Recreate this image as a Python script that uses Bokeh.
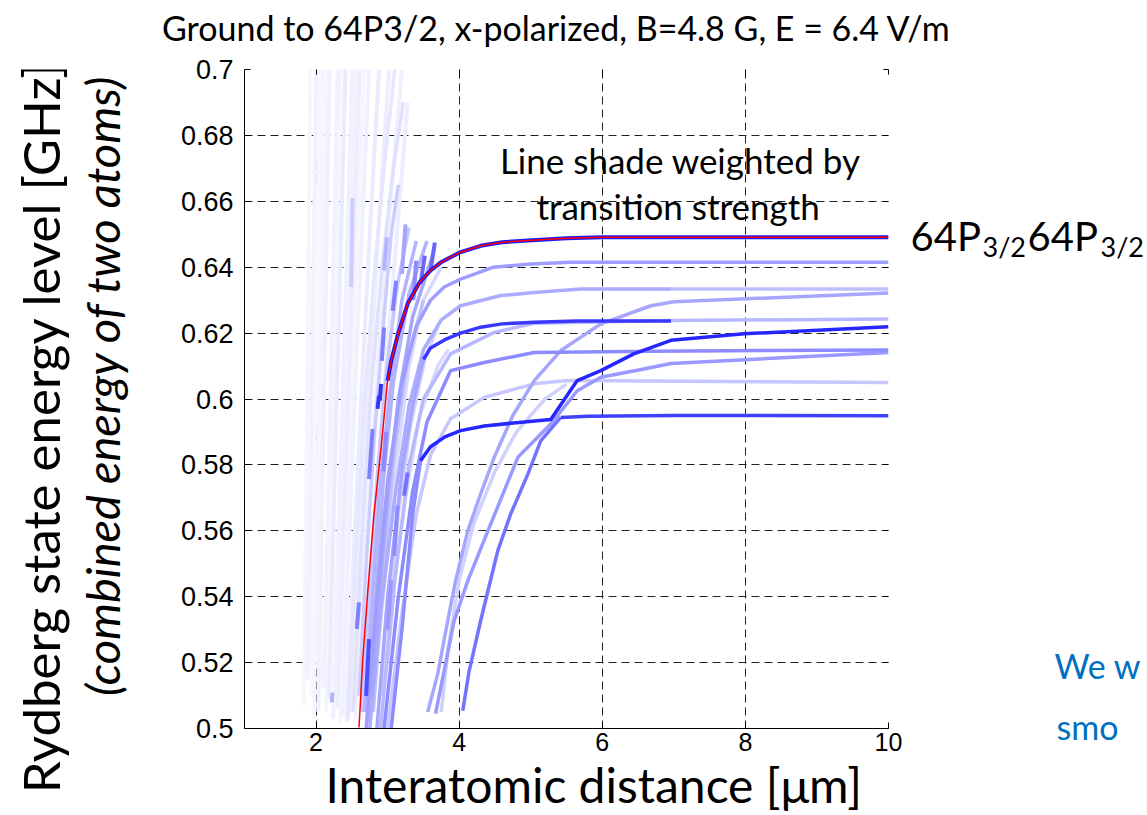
import math
from bokeh.plotting import figure
from bokeh.models import Label, LinearAxis, FixedTicker, Range1d, NumeralTickFormatter, Title
from bokeh.layouts import row, column
from bokeh.embed import file_html
from bokeh.resources import INLINE

# ---------------- data ----------------
x_ticks = [2, 4, 6, 8, 10]
y_ticks = [0.5, 0.52, 0.54, 0.56, 0.58, 0.6, 0.62, 0.64, 0.66, 0.68, 0.7]

faint_x = [
    [1.83, 1.85, 1.88, 1.90, 1.92],
    [1.88, 1.91, 1.94, 1.97, 2.00],
    [1.93, 1.95, 1.99, 2.02, 2.05],
    [1.97, 2.00, 2.04, 2.07, 2.10],
    [2.03, 2.07, 2.11, 2.15, 2.19],
    [2.10, 2.15, 2.20, 2.25, 2.30],
    [2.14, 2.18, 2.24, 2.29, 2.34],
    [2.18, 2.23, 2.29, 2.35, 2.41],
    [2.24, 2.30, 2.37, 2.44, 2.51],
    [2.30, 2.37, 2.45, 2.53, 2.61],
    [2.34, 2.41, 2.49, 2.58, 2.67],
    [2.37, 2.45, 2.54, 2.64, 2.74],
    [2.43, 2.52, 2.63, 2.75, 2.88],
    [2.49, 2.60, 2.73, 2.87, 3.02],
    [2.55, 2.67, 2.83, 3.00, 3.20],
    [2.62, 2.76, 2.94, 3.13, 3.28],
    [2.00, 2.04, 2.08, 2.12, 2.16],
    [2.27, 2.33, 2.41, 2.48, 2.56],
]
faint_y = [
    [0.507, 0.55, 0.60, 0.65, 0.70],
    [0.515, 0.55, 0.60, 0.65, 0.70],
    [0.510, 0.55, 0.60, 0.65, 0.70],
    [0.503, 0.55, 0.60, 0.65, 0.70],
    [0.505, 0.55, 0.60, 0.65, 0.70],
    [0.512, 0.55, 0.60, 0.65, 0.70],
    [0.505, 0.55, 0.60, 0.65, 0.70],
    [0.509, 0.55, 0.60, 0.65, 0.70],
    [0.503, 0.55, 0.60, 0.65, 0.70],
    [0.506, 0.55, 0.60, 0.65, 0.70],
    [0.502, 0.55, 0.60, 0.65, 0.70],
    [0.504, 0.55, 0.60, 0.65, 0.70],
    [0.502, 0.55, 0.60, 0.65, 0.70],
    [0.505, 0.55, 0.60, 0.65, 0.70],
    [0.503, 0.55, 0.60, 0.65, 0.70],
    [0.510, 0.55, 0.60, 0.65, 0.69],
    [0.520, 0.55, 0.60, 0.65, 0.70],
    [0.515, 0.55, 0.60, 0.65, 0.70],
]
faint_w = [0.04, 0.05, 0.03, 0.04, 0.06, 0.05, 0.04, 0.08, 0.06, 0.07,
           0.04, 0.06, 0.08, 0.07, 0.06, 0.07, 0.04, 0.05]

bundle_x = [
    [2.45, 2.55, 2.68, 2.82, 2.95, 3.10],
    [2.52, 2.62, 2.76, 2.92, 3.08, 3.22],
    [2.60, 2.70, 2.82, 2.95, 3.05, 3.15],
    [2.68, 2.76, 2.88, 3.02, 3.20, 3.40],
    [2.72, 2.82, 2.94, 3.08, 3.30, 3.55],
    [2.78, 2.90, 3.00, 3.15, 3.35, 3.65],
    [2.85, 2.98, 3.12, 3.30, 3.50, 3.75],
    [3.00, 3.10, 3.25, 3.45, 3.70, 3.85],
    [2.64, 2.73, 2.85, 2.99, 3.14, 3.30],
    [2.80, 2.87, 2.97, 3.10, 3.28, 3.50],
    [2.92, 3.02, 3.15, 3.32, 3.52, 3.70],
]
bundle_y = [
    [0.503, 0.55, 0.60, 0.64, 0.67, 0.70],
    [0.505, 0.55, 0.60, 0.64, 0.67, 0.69],
    [0.510, 0.55, 0.59, 0.625, 0.65, 0.665],
    [0.505, 0.53, 0.57, 0.60, 0.63, 0.648],
    [0.502, 0.535, 0.575, 0.605, 0.632, 0.648],
    [0.510, 0.545, 0.57, 0.60, 0.625, 0.645],
    [0.520, 0.55, 0.58, 0.61, 0.63, 0.640],
    [0.520, 0.545, 0.57, 0.595, 0.61, 0.615],
    [0.505, 0.535, 0.575, 0.61, 0.635, 0.652],
    [0.505, 0.525, 0.555, 0.585, 0.612, 0.630],
    [0.510, 0.535, 0.565, 0.592, 0.612, 0.622],
]
bundle_w = [0.10, 0.12, 0.20, 0.30, 0.30, 0.35, 0.15, 0.15, 0.22, 0.25, 0.18]

seg_x0 = [3.66, 3.52, 3.12, 2.99, 2.95, 2.91, 2.51, 2.74, 2.60, 2.79, 2.88, 3.28, 3.14, 2.23, 3.40, 3.25, 3.05, 2.98]
seg_y0 = [0.6475, 0.6435, 0.6359, 0.649, 0.6217, 0.6046, 0.661, 0.5271, 0.5383, 0.5909, 0.601, 0.5777, 0.5676, 0.5109, 0.6420, 0.6530, 0.5450, 0.5900]
seg_x1 = [3.60, 3.46, 3.07, 2.95, 2.92, 2.89, 2.49, 2.70, 2.57, 2.74, 2.86, 3.23, 3.09, 2.22, 3.36, 3.20, 3.00, 2.94]
seg_y1 = [0.639, 0.6349, 0.6268, 0.639, 0.6116, 0.5995, 0.634, 0.5099, 0.5302, 0.5757, 0.597, 0.5706, 0.5524, 0.5079, 0.6300, 0.6380, 0.5300, 0.5780]
seg_w = [0.6, 0.6, 0.5, 0.3, 0.5, 0.8, 0.2, 0.7, 0.5, 0.5, 0.8, 0.55, 0.45, 0.3, 0.45, 0.35, 0.4, 0.45]

lvl_642_x = [2.70, 2.85, 3.00, 3.20, 3.40, 3.60, 3.79, 4.02, 4.48, 5.00, 5.56, 10.0]
lvl_642_y = [0.500, 0.540, 0.575, 0.605, 0.622, 0.630, 0.634, 0.6364, 0.640, 0.641, 0.6415, 0.6415]
lvl_633_x = [2.75, 2.90, 3.10, 3.30, 3.50, 3.75, 4.02, 4.58, 5.05, 5.70, 6.96]
lvl_633_y = [0.500, 0.535, 0.570, 0.598, 0.615, 0.624, 0.6283, 0.6314, 0.6323, 0.6334, 0.6334]
lvl_633b_x = [6.96, 10.0]
lvl_633b_y = [0.6334, 0.6334]
lvl_624a_low_x = [2.85, 3.00, 3.20, 3.35, 3.50]
lvl_624a_low_y = [0.500, 0.540, 0.578, 0.598, 0.612]
lvl_624a_x = [3.50, 3.60, 3.80, 4.02, 4.30, 4.60, 5.05, 5.65, 6.96]
lvl_624a_y = [0.612, 0.6155, 0.618, 0.620, 0.6218, 0.6228, 0.6233, 0.6237, 0.6237]
lvl_624b_x = [2.90, 3.10, 3.30, 3.50, 3.88, 4.49, 5.05, 6.96, 10.0]
lvl_624b_y = [0.500, 0.545, 0.580, 0.600, 0.6137, 0.6202, 0.6230, 0.6238, 0.6243]
lvl_615_x = [2.95, 3.15, 3.35, 3.55, 3.88, 4.35, 5.05, 6.68, 10.0]
lvl_615_y = [0.500, 0.540, 0.572, 0.593, 0.6086, 0.6111, 0.6141, 0.6145, 0.6149]
lvl_605_x = [3.00, 3.20, 3.40, 3.60, 3.88, 4.35, 5.05, 5.51, 10.0]
lvl_605_y = [0.500, 0.535, 0.565, 0.583, 0.594, 0.6005, 0.6046, 0.6056, 0.6050]
dark_low_x = [3.05, 3.20, 3.35, 3.46]
dark_low_y = [0.500, 0.530, 0.565, 0.5813]
dark_x = [3.46, 3.60, 3.80, 4.02, 4.35, 4.80, 5.28, 5.65, 5.98, 6.44, 6.96, 7.98, 10.0]
dark_y = [0.5813, 0.5855, 0.5885, 0.5904, 0.5918, 0.5928, 0.5938, 0.6056, 0.6086, 0.6137, 0.6178, 0.6198, 0.6219]

r1_x = [3.56, 3.70, 3.84, 3.95, 4.12, 4.30, 4.49, 4.75, 5.05, 5.42, 5.98, 6.68, 7.00, 10.0]
r1_y = [0.505, 0.5165, 0.5327, 0.5448, 0.560, 0.5712, 0.5823, 0.595, 0.6056, 0.6147, 0.6228, 0.6283, 0.6295, 0.6322]
r2_x = [3.67, 3.79, 3.93, 4.12, 4.44, 4.82, 5.28, 5.65, 5.98, 6.58, 6.96, 10.0]
r2_y = [0.5045, 0.5175, 0.5327, 0.5448, 0.562, 0.5823, 0.5924, 0.6025, 0.6066, 0.6091, 0.6108, 0.6141]
r3_x = [4.05, 4.14, 4.30, 4.54, 4.72, 4.96, 5.14, 5.42]
r3_y = [0.5054, 0.5175, 0.5327, 0.554, 0.5651, 0.5772, 0.5873, 0.5944]
r3b_x = [5.42, 5.80, 7.00, 10.0]
r3b_y = [0.5944, 0.5948, 0.5950, 0.5949]
r4_x = [3.75, 3.85, 4.00, 4.20, 4.50, 4.80, 5.20, 5.50]
r4_y = [0.505, 0.525, 0.545, 0.562, 0.578, 0.590, 0.600, 0.6045]

main_x = [2.60, 2.65, 2.72, 2.81, 2.91, 3.00, 3.05, 3.15, 3.28, 3.45, 3.60, 3.74, 4.00, 4.30, 4.60, 4.96, 5.50, 6.00, 10.0]
main_y = [0.5003, 0.520, 0.5408, 0.5651, 0.5853, 0.6056, 0.6116, 0.620, 0.6289, 0.6355, 0.6390, 0.6414, 0.6444, 0.6465, 0.6476, 0.6481, 0.6488, 0.6491, 0.6491]

# ---------------- helpers ----------------
def shade(w):
    v = int(round(255 * (1 - w)))
    return "#%02x%02xff" % (v, v)

def blank(width, height, x0, y0):
    # text panel whose data units are page pixels (x right, y down from the page top)
    f = figure(frame_width=width, frame_height=height,
               x_range=Range1d(x0, x0 + width), y_range=Range1d(y0 + height, y0),
               output_backend="svg", toolbar_location=None, x_axis_type=None, y_axis_type=None,
               min_border=0, min_border_left=0, min_border_right=0, min_border_top=0, min_border_bottom=0)
    f.outline_line_color = None
    f.grid.visible = False
    f.background_fill_color = "white"
    f.border_fill_color = "white"
    return f

TXT = "Lato"
def lab(f, text, x, y, size, align="left", baseline="alphabetic", color="black", angle=0.0, style="normal"):
    f.add_layout(Label(x=x, y=y, text=text, text_font=TXT, text_font_size=size,
                       text_align=align, text_baseline=baseline, text_color=color,
                       angle=angle, text_font_style=style))

# ---------------- main plot: page x 150..908, y 55..815 ----------------
p = figure(width=758, height=760, x_range=Range1d(1, 10), y_range=Range1d(0.5, 0.7),
           output_backend="svg", toolbar_location=None,
           min_border_left=94, min_border_right=20, min_border_top=14, min_border_bottom=87)
p.outline_line_color = None
p.background_fill_color = "white"
p.border_fill_color = "white"

for ax in (p.xaxis[0], p.yaxis[0]):
    ax.major_tick_in = 6
    ax.major_tick_out = 0
    ax.minor_tick_line_color = None
    ax.axis_line_color = "black"
    ax.major_tick_line_color = "black"
    ax.major_label_text_font = "Liberation Sans"
    ax.major_label_text_color = "black"
p.xaxis.major_label_text_font_size = "25px"
p.yaxis.major_label_text_font_size = "27px"
p.xaxis.ticker = FixedTicker(ticks=x_ticks)
p.yaxis.ticker = FixedTicker(ticks=y_ticks)
p.yaxis.formatter = NumeralTickFormatter(format="0.0[0]")
p.xaxis.major_label_standoff = 4
p.yaxis.major_label_standoff = 11

for side, tk in (("right", y_ticks), ("above", x_ticks)):
    ax = LinearAxis(ticker=FixedTicker(ticks=tk), axis_line_color=None,
                    major_tick_in=5, major_tick_out=0, minor_tick_line_color=None,
                    major_label_text_font_size="0px", major_label_text_alpha=0,
                    major_label_standoff=0)
    p.add_layout(ax, side)

for g, tk in ((p.xgrid, x_ticks), (p.ygrid, y_ticks)):
    g.ticker = FixedTicker(ticks=tk)
    g.grid_line_color = "#202020"
    g.grid_line_alpha = 1.0
    g.grid_line_dash = "8 5"
    g.grid_line_width = 1

pieces = []
for xs, ys, w in zip(faint_x, faint_y, faint_w):
    pieces.append((xs, ys, w, 4))
for xs, ys, w in zip(bundle_x, bundle_y, bundle_w):
    pieces.append((xs, ys, w, 3.5))
for a, b, c, d, w in zip(seg_x0, seg_y0, seg_x1, seg_y1, seg_w):
    pieces.append(([a, c], [b, d], w, 4))
pieces += [
    (r4_x, r4_y, 0.18, 3.5),
    (lvl_605_x, lvl_605_y, 0.22, 3.5),
    (lvl_633b_x, lvl_633b_y, 0.25, 3.5),
    (lvl_624b_x, lvl_624b_y, 0.28, 3.5),
    (lvl_633_x, lvl_633_y, 0.33, 3.5),
    (lvl_624a_low_x, lvl_624a_low_y, 0.35, 3.5),
    (r1_x, r1_y, 0.35, 3.5),
    (lvl_642_x, lvl_642_y, 0.38, 3.5),
    (r2_x, r2_y, 0.40, 3.5),
    (lvl_615_x, lvl_615_y, 0.45, 3.5),
    (dark_low_x, dark_low_y, 0.45, 3.5),
    (r3_x, r3_y, 0.55, 3.5),
    (r3b_x, r3b_y, 0.75, 3.5),
    (lvl_624a_x, lvl_624a_y, 0.78, 3.5),
    (dark_x, dark_y, 0.85, 3.5),
]
pieces.sort(key=lambda t: t[2])
for xs, ys, w, lw in pieces:
    p.line(xs, ys, line_color=shade(w), line_width=lw, line_cap="butt", line_join="round")

i0 = 5
p.line(main_x[i0:], main_y[i0:], line_color=shade(0.9), line_width=4)
p.line(main_x, main_y, line_color="#ff0000", line_width=1.5)

lab(p, "Line shade weighted by", 7.09, 0.6724, "35px", align="center", baseline="middle")
lab(p, "transition strength", 7.06, 0.6587, "35px", align="center", baseline="middle")

p.add_layout(Title(text="Interatomic distance [\u03bcm]", align="left", offset=81,
                   text_font=TXT, text_font_size="48px", text_font_style="normal",
                   standoff=0, text_color="black"), "below")

# ---------------- surrounding text panels ----------------
pT = blank(1147, 55, 0, 0)
lab(pT, "Ground to 64P3/2, x-polarized, B=4.8 G, E = 6.4 V/m", 556, 27, "34px", align="center", baseline="middle")

# the row shifts these frames down (measured: left ~69, right ~84 px from the page top)
pL = blank(150, 746, 0, 69)
lab(pL, "Rydberg state energy level [GHz]", 40, 427, "51px", align="center", baseline="middle", angle=math.pi / 2)
lab(pL, "(combined energy of two atoms)", 101, 385, "47px", align="center", baseline="middle",
    angle=math.pi / 2, style="italic")

pR = blank(239, 746, 908, 84)
lab(pR, "64P", 910, 250, "40px")
lab(pR, "3/2", 982, 261, "27px")
lab(pR, "64P", 1027, 250, "40px")
lab(pR, "3/2", 1100, 261, "27px")
lab(pR, "We w", 1054, 680, "34px", color="#0070c0")
lab(pR, "smo", 1056, 741, "34px", color="#0070c0")

layout = column(pT, row(pL, p, pR))
open("out.html", "w").write(file_html(layout, INLINE))
